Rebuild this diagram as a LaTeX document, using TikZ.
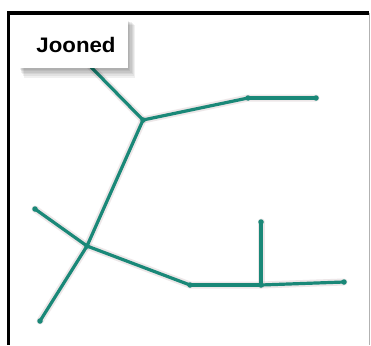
\documentclass[tikz,border=0pt]{standalone}
\usepackage{fontspec}
\setmainfont{Liberation Sans}
\definecolor{teal1}{HTML}{1A8878}
\definecolor{shad}{HTML}{C4B2B6}
\tikzset{
  edge/.style={draw=teal1, line width=3.2pt, line cap=round},
  shadowedge/.style={draw=shad, line width=7pt, line cap=round, opacity=0.3},
  dot/.style={circle, fill=teal1, inner sep=0pt, minimum size=5.5pt},
}
\begin{document}
\begin{tikzpicture}[x=1pt,y=-1pt]
\fill[white] (0,0) rectangle (371,345);
\useasboundingbox (0,0) rectangle (371,345);
% frame
\draw[line width=3.5pt] (7,13) -- (369,13);
\draw[line width=3pt] (8.5,13) -- (8.5,345);
\draw[black!30, line width=1pt] (369,13) -- (369,345);
% points
\coordinate (A) at (90,66);
\coordinate (B) at (143,120);
\coordinate (C) at (248,98);
\coordinate (D) at (316,98);
\coordinate (E) at (87,246);
\coordinate (F) at (40,321);
\coordinate (G) at (35,209);
\coordinate (H) at (190,285);
\coordinate (I) at (261,285);
\coordinate (J) at (344,282);
\coordinate (K) at (261,222);
% shadows
\begin{scope}[shift={(5,7)}]
  \draw[shadowedge] (A) -- (B) -- (C) -- (D);
  \draw[shadowedge] (B) -- (E) -- (F);
  \draw[shadowedge] (G) -- (E) -- (H) -- (I) -- (J);
  \draw[shadowedge] (I) -- (K);
\end{scope}
% edges
\draw[edge] (A) -- (B);
\draw[edge] (B) -- (C);
\draw[edge] (C) -- (D);
\draw[edge] (B) -- (E);
\draw[edge] (E) -- (F);
\draw[edge] (G) -- (E);
\draw[edge] (E) -- (H);
\draw[edge] (H) -- (I);
\draw[edge] (I) -- (J);
\draw[edge] (I) -- (K);
% dots
\foreach \p in {B,C,D,E,F,G,H,I,J,K} \node[dot] at (\p) {};
% label box with soft shadow
\foreach \k in {1,...,6}
  \fill[black, opacity=0.06] (17+\k*0.8+2,18+\k*0.8+2) rectangle (128+\k*1.2,68+\k*1.6);
\fill[white] (17,18) rectangle (128,68);
\node[font=\fontsize{21}{21}\selectfont\bfseries, xscale=1.06, text=black] (lbl) at (76,45) {Jooned};
\end{tikzpicture}
\end{document}
